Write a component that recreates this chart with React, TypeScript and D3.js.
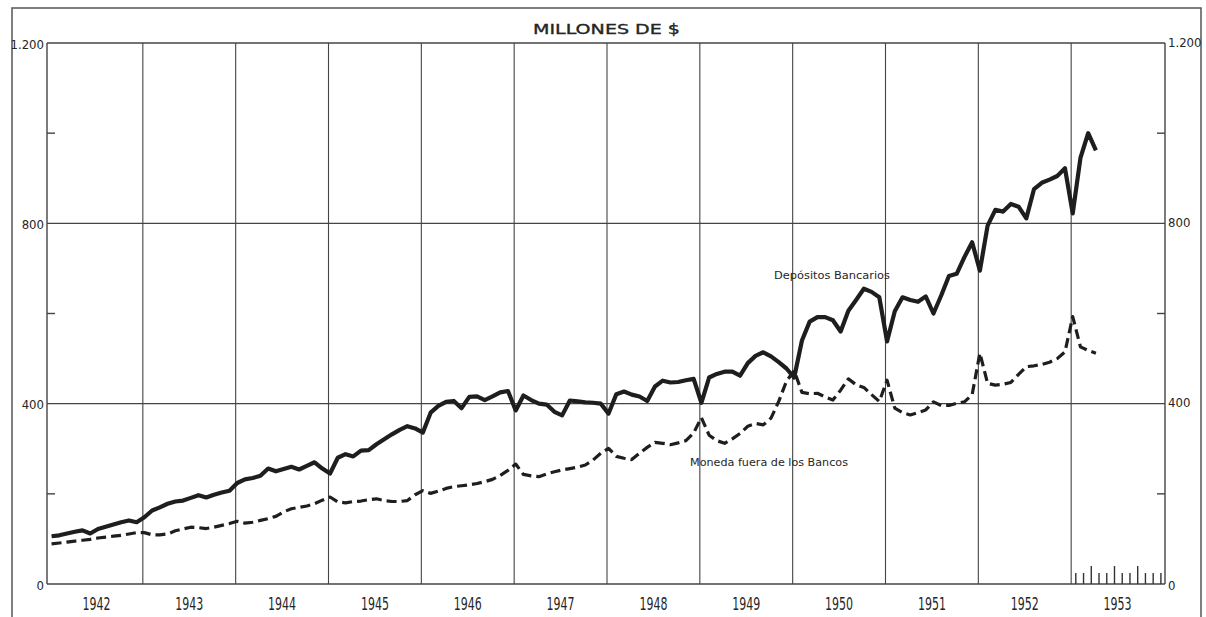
import React from "react";
import * as d3 from "d3";

// ---- data (monthly, Jan 1942 – Apr 1953), millones de $ ----
const startYear = 1942;
const depositos: number[] = [
  // 1942
  106, 108, 112, 116, 119, 112, 122, 127, 132, 137, 141, 137,
  // 1943
  148, 163, 170, 178, 183, 185, 191, 197, 192, 198, 203, 207,
  // 1944
  224, 232, 235, 240, 256, 250, 255, 260, 254, 262, 270, 256,
  // 1945
  245, 280, 288, 283, 296, 297, 310, 321, 332, 342, 350, 345,
  // 1946
  336, 380, 395, 404, 406, 390, 415, 416, 408, 416, 425, 428,
  // 1947
  385, 418, 408, 400, 398, 382, 374, 407, 405, 403, 402, 400,
  // 1948
  378, 421, 427, 420, 416, 406, 438, 451, 447, 448, 452, 455,
  // 1949
  402, 458, 466, 471, 471, 462, 490, 506, 514, 505, 492, 478,
  // 1950
  458, 540, 582, 592, 592, 585, 560, 606, 630, 655, 648, 636,
  // 1951
  538, 605, 636, 630, 626, 638, 600, 640, 683, 688, 725, 758,
  // 1952
  695, 795, 830, 826, 843, 837, 811, 876, 890, 897, 905, 922,
  // 1953
  822, 945, 1000, 962,
];
const moneda: number[] = [
  // 1942
  89, 91, 93, 95, 97, 99, 102, 104, 106, 108, 111, 114,
  // 1943
  114, 109, 109, 111, 118, 122, 126, 125, 123, 126, 130, 134,
  // 1944
  139, 135, 137, 141, 145, 150, 160, 167, 170, 173, 178, 186,
  // 1945
  193, 182, 180, 183, 184, 187, 189, 185, 183, 183, 185, 198,
  // 1946
  207, 201, 206, 212, 216, 218, 220, 223, 227, 232, 241, 252,
  // 1947
  266, 243, 240, 238, 244, 249, 253, 256, 259, 264, 275, 290,
  // 1948
  301, 283, 279, 276, 290, 303, 314, 312, 309, 313, 318, 335,
  // 1949
  369, 330, 318, 312, 322, 334, 350, 356, 353, 368, 405, 450,
  // 1950
  473, 425, 422, 423, 415, 408, 430, 455, 442, 436, 420, 405,
  // 1951
  452, 390, 380, 375, 380, 386, 404, 396, 396, 401, 404, 420,
  // 1952
  512, 445, 441, 443, 447, 465, 482, 484, 487, 492, 500, 515,
  // 1953
  593, 526, 518, 512,
];
const yearLabels = ["1942", "1943", "1944", "1945", "1946", "1947", "1948", "1949", "1950", "1951", "1952", "1953"];
const yLabelValues = [0, 400, 800, 1200];
const yLabelTexts = ["0", "400", "800", "1.200"];
const yMinorTicks = [200, 600, 1000];
const yGridValues = [400, 800];
const title = "MILLONES DE $";
const labelDepositos = "Depósitos Bancarios";
const labelMoneda = "Moneda fuera de los Bancos";

const W = 1206;
const H = 617;
const INK = "#1e1e1e";
const GRID = "#444";
const TEXT = "#262626";
const NUM_FONT = "'Liberation Sans Narrow', 'DejaVu Sans Condensed', 'Liberation Sans', sans-serif";
const TXT_FONT = "'DejaVu Sans', 'Liberation Sans', sans-serif";

export default function App() {
  const x = d3.scaleLinear().domain([1942, 1954]).range([50, 1164]);
  const y = d3.scaleLinear().domain([0, 1200]).range([584, 43]);
  const axL = 47;
  const axR = 1165;

  const tOf = (i: number) => startYear + (i + 0.2) / 12;
  const line = d3
    .line<number>()
    .x((_, i) => x(tOf(i)))
    .y((d) => y(d))
    .curve(d3.curveLinear);

  const yearBounds = d3.range(1943, 1954);
  const monthTicks = d3.range(12);

  return (
    <svg
      width={W}
      height={H}
      viewBox={`0 0 ${W} ${H}`}
      style={{ position: "absolute", left: 0, top: 0, background: "#fff" }}
    >
      <rect x={0} y={0} width={W} height={H} fill="#fff" />
      {/* outer frame */}
      <path d={`M12,${H} L12,8 L1201,8 L1201,${H}`} fill="none" stroke="#555" strokeWidth={1.5} />

      {/* title */}
      <text
        x={533}
        y={34}
        fontFamily={TXT_FONT}
        fontSize={13.5}
        textLength={147}
        lengthAdjust="spacingAndGlyphs"
        fill={TEXT}
        stroke={TEXT}
        strokeWidth={0.35}
      >
        {title}
      </text>

      {/* plot frame */}
      <line x1={axL} x2={axR} y1={y(1200)} y2={y(1200)} stroke={GRID} strokeWidth={1.3} />
      <line x1={axL} x2={axR} y1={y(0)} y2={y(0)} stroke={GRID} strokeWidth={1.7} />
      <line x1={axL} x2={axL} y1={y(1200)} y2={y(0)} stroke={GRID} strokeWidth={1.4} />
      <line x1={axR} x2={axR} y1={y(1200)} y2={y(0)} stroke={GRID} strokeWidth={1.4} />

      {/* horizontal grid */}
      {yGridValues.map((v) => (
        <line key={"hg" + v} x1={axL} x2={axR} y1={y(v)} y2={y(v)} stroke={GRID} strokeWidth={1.1} />
      ))}
      {/* minor y ticks */}
      {yMinorTicks.map((v) => (
        <g key={"mt" + v}>
          <line x1={axL} x2={axL + 8} y1={y(v)} y2={y(v)} stroke={GRID} strokeWidth={1.4} />
          <line x1={axR - 8} x2={axR} y1={y(v)} y2={y(v)} stroke={GRID} strokeWidth={1.4} />
        </g>
      ))}
      {/* vertical year grid */}
      {yearBounds.map((yr) => (
        <line key={"vg" + yr} x1={x(yr)} x2={x(yr)} y1={y(1200)} y2={y(0)} stroke={GRID} strokeWidth={1.1} />
      ))}
      {/* monthly ticks in 1953 */}
      {monthTicks.map((k) => {
        const xx = x(1953 + (k + 0.6) / 12);
        const len = k === 2 || k === 5 || k === 8 ? 18 : 11;
        return <line key={"mk" + k} x1={xx} x2={xx} y1={y(0)} y2={y(0) - len} stroke="#333" strokeWidth={1.4} />;
      })}

      {/* y labels */}
      {yLabelValues.map((v, i) => (
        <g key={"yl" + v}>
          <text
            x={44}
            y={y(v) + 1}
            textAnchor="end"
            dominantBaseline="central"
            fontFamily={NUM_FONT}
            fontSize={13}
            fill={TEXT}
          >
            {yLabelTexts[i]}
          </text>
          <text
            x={1168}
            y={y(v) + (v === 0 ? 1 : -1)}
            textAnchor="start"
            dominantBaseline="central"
            fontFamily={NUM_FONT}
            fontSize={13}
            fill={TEXT}
          >
            {yLabelTexts[i]}
          </text>
        </g>
      ))}

      {/* year labels */}
      {yearLabels.map((lab, i) => (
        <text
          key={"yr" + lab}
          x={x(1942 + i + 0.5)}
          y={610}
          textAnchor="middle"
          fontFamily={NUM_FONT}
          fontSize={17}
          textLength={28}
          lengthAdjust="spacingAndGlyphs"
          fill={TEXT}
        >
          {lab}
        </text>
      ))}

      {/* series */}
      <path
        d={line(moneda) || ""}
        fill="none"
        stroke={INK}
        strokeWidth={3.2}
        strokeDasharray="10,5"
        strokeLinejoin="round"
      />
      <path d={line(depositos) || ""} fill="none" stroke={INK} strokeWidth={4.2} strokeLinejoin="round" />

      {/* series labels */}
      <text
        x={774}
        y={279}
        fontFamily={TXT_FONT}
        fontSize={10.5}
        textLength={116}
        lengthAdjust="spacingAndGlyphs"
        fill={TEXT}
      >
        {labelDepositos}
      </text>
      <text
        x={690}
        y={466}
        fontFamily={TXT_FONT}
        fontSize={10.5}
        textLength={158}
        lengthAdjust="spacingAndGlyphs"
        fill={TEXT}
      >
        {labelMoneda}
      </text>
    </svg>
  );
}
